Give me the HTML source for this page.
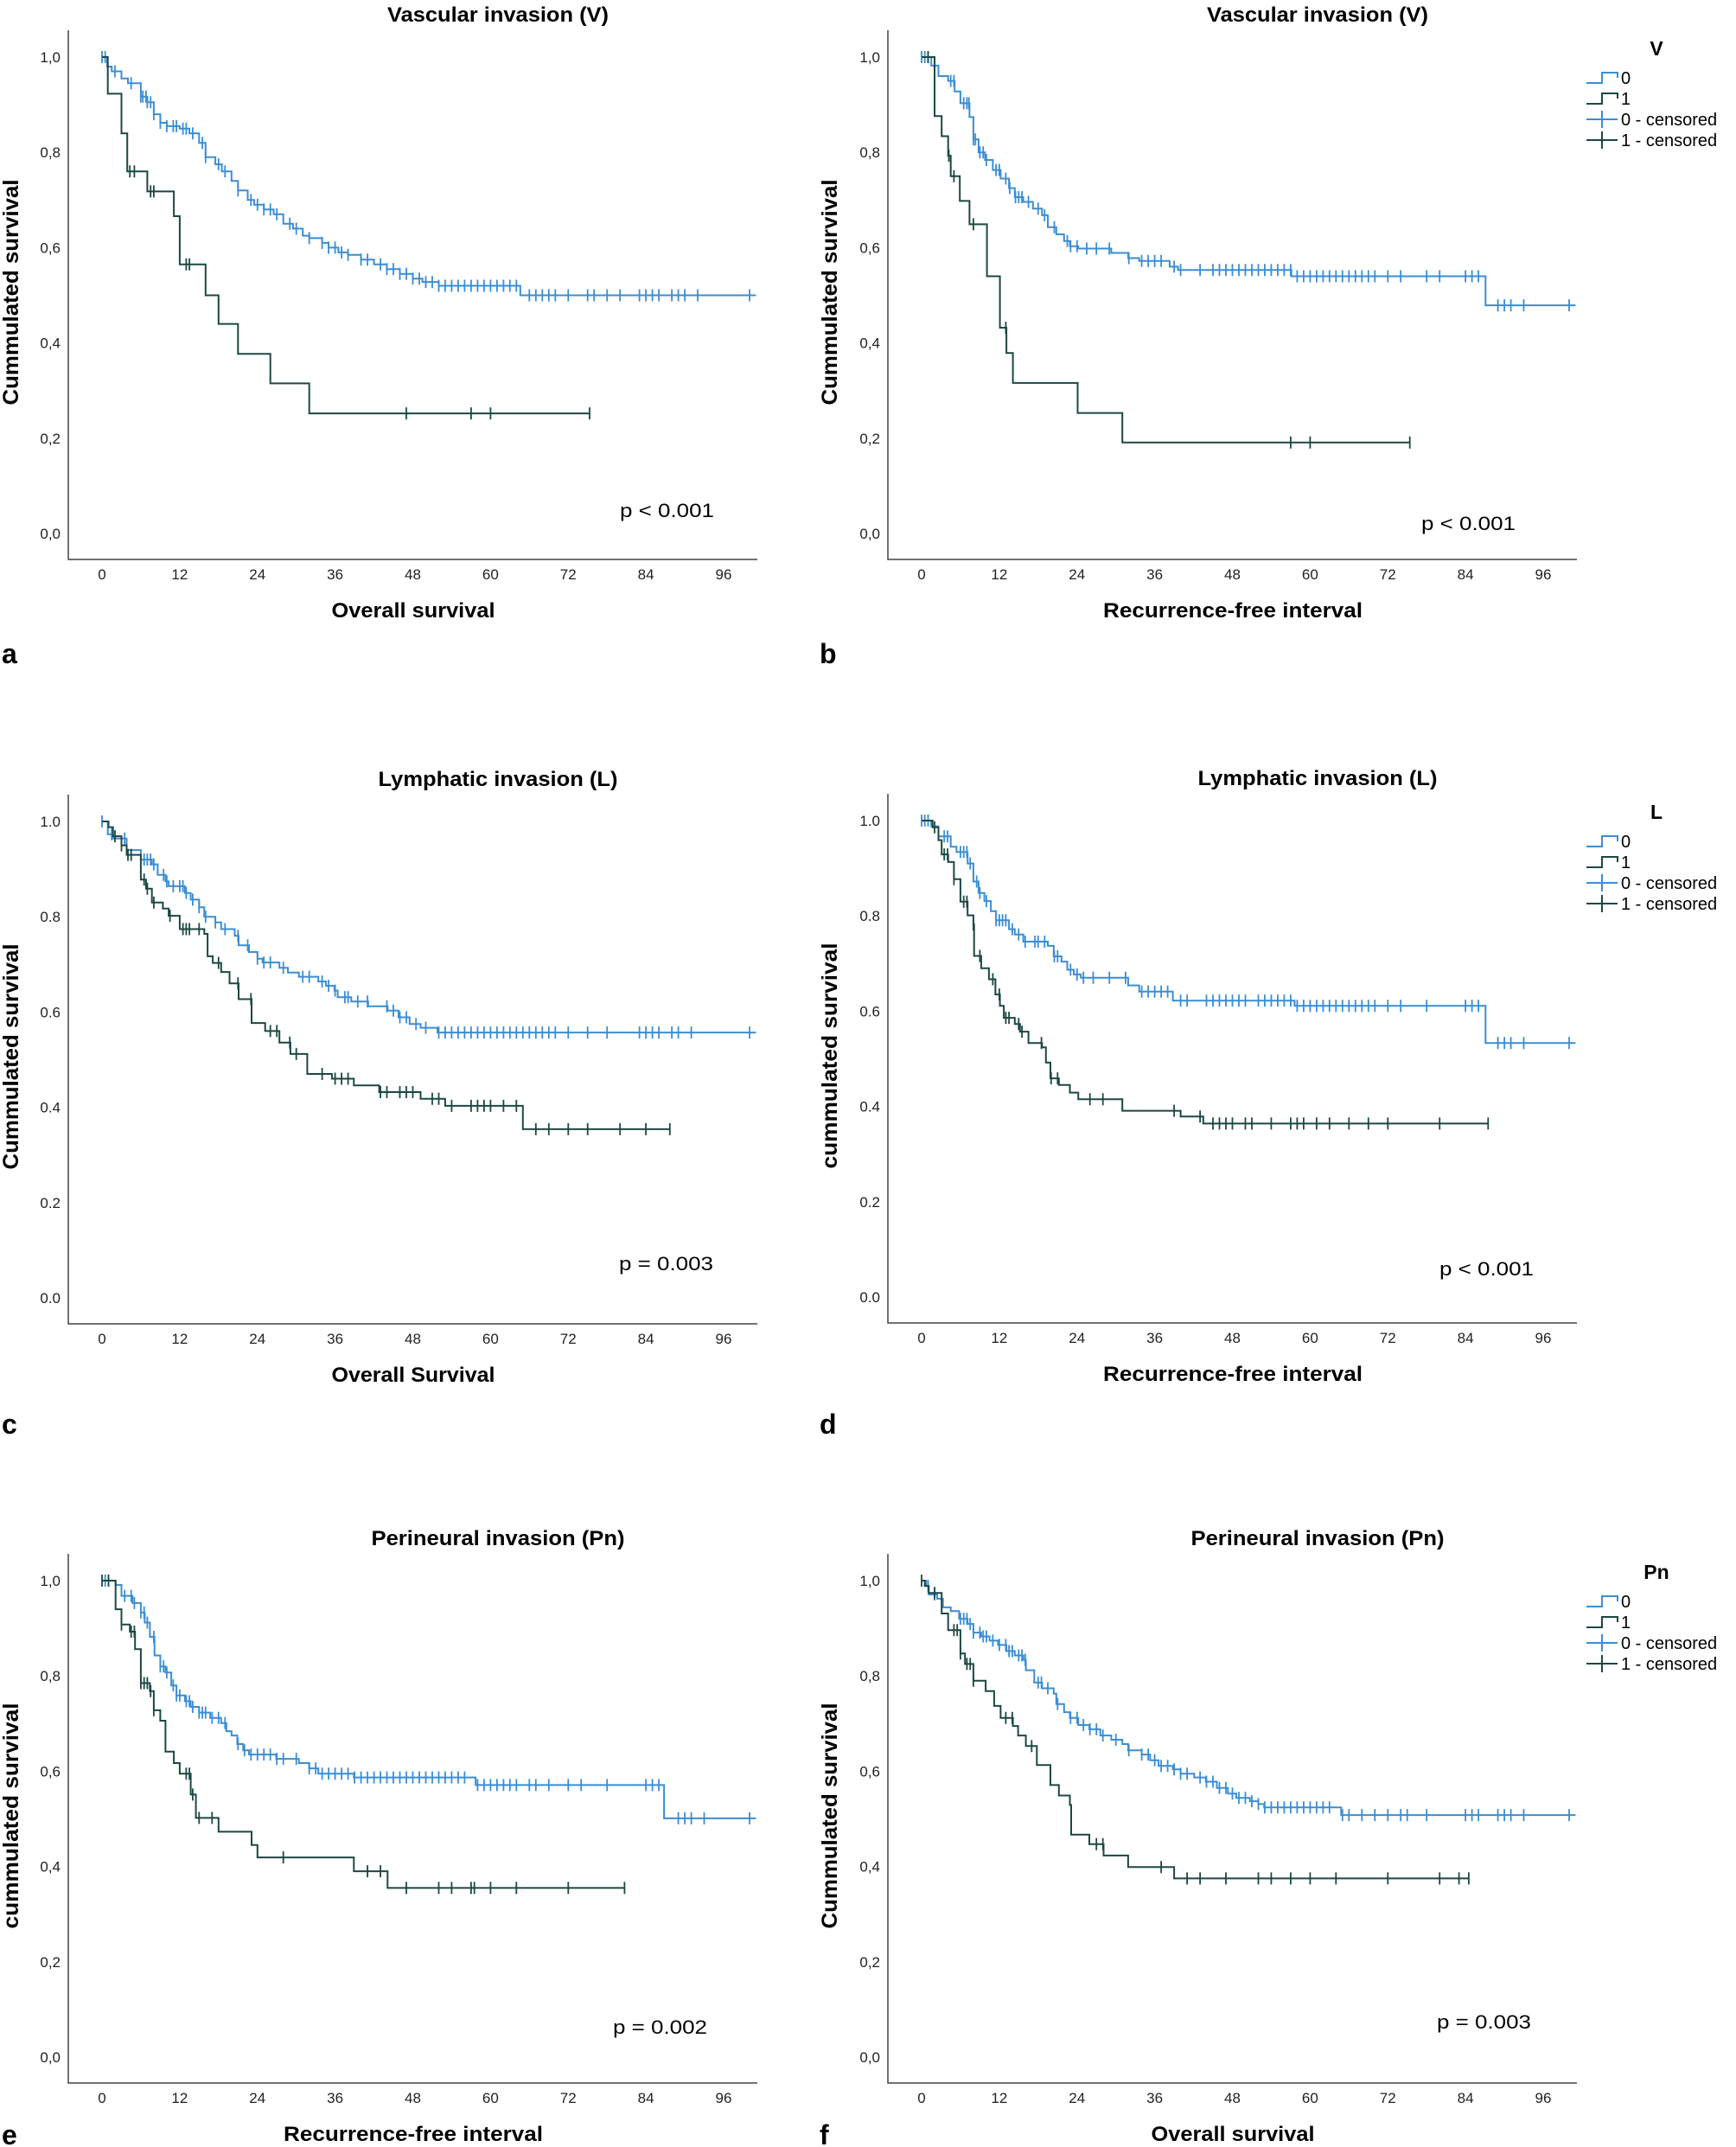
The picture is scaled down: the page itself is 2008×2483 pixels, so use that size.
<!DOCTYPE html>
<html><head><meta charset="utf-8"><style>
html,body{margin:0;padding:0;background:#fff;}
svg{display:block;font-family:"Liberation Sans",sans-serif;}
</style></head><body>
<svg id="fig" width="2008" height="2483" viewBox="0 0 2008 2483" xmlns="http://www.w3.org/2000/svg"></svg>
<script>
// ---------- data (months, survival) ----------
const aBlueT=[0.8,1.5,3,4,6,7,8,9,10,12,13.5,15,16,17.5,18.5,20,21,22.5,23.5,25,26.5,28,29.5,31,32,34,35,36.5,38,40,42,44,46,48,49.5,52,64.6];
const aBlueS=[.98,.97,.955,.945,.917,.905,.88,.862,.855,.85,.84,.82,.79,.775,.76,.74,.72,.70,.69,.68,.67,.65,.64,.625,.62,.61,.60,.59,.585,.575,.565,.555,.545,.535,.528,.52,.50];
const aBlueC=[0,0.5,2,4.5,6,6.3,6.8,7,7.5,8,9,10,11,11.5,12.5,13,14,15.5,16,18,19,21,23,24,25,26,27,29,30,32,34,35,36,37,38,40,41,43,44,45,46,47,48,49,50,51,52,53,54,55,56,57,58,59,60,61,62,63,64,66,67,68,69,70,72,75,76,78,80,83,84,85,86,88,89,90,92,100];
const aDarkT=[0.9,3,3.9,7,11.1,12,16,18,21,26,32];
const aDarkS=[.923,.84,.76,.718,.666,.565,.50,.44,.377,.315,.252];
const aDarkC=[4.3,5,7.5,8,13,13.5,47,57,60,75.3];
const aEnd=[101,75.3];

const bBlueT=[1.5,2.6,4.1,5.1,6,7.4,8,8.8,9.8,11,12.2,13.5,14.4,15.7,17.2,18.6,19.5,20.8,22,22.9,24.2,29.3,31.9,33.6,38.3,39.6,57.1,87.1];
const bBlueS=[.982,.96,.95,.928,.903,.874,.827,.80,.784,.763,.745,.725,.706,.696,.682,.668,.643,.628,.614,.603,.598,.589,.578,.572,.56,.553,.54,.479];
const bBlueC=[0,0.5,1,4.5,5,6.5,7,7.3,8,8.3,9,9.5,10,11.5,12,13,13.6,14.5,15,15.5,16.5,18,19,20.5,22.5,23,24,25.5,27,29,32,34,35,36,37,39,40,43,45,46,47,48,49,50,51,52,53,54,55,56,57,58,59,60,61,62,63,64,65,66,67,68,69,70,72,74,78,80,84,85,86,89,90,91,93,100];
const bDarkT=[2,3.1,4.1,4.5,5.9,7.4,10.1,12.1,13.1,14.1,24.1,31];
const bDarkS=[.876,.834,.793,.75,.698,.649,.54,.432,.379,.316,.253,.191];
const bDarkC=[1,4.2,5,8,13,57,60,75.4];
const bEnd=[101,75.4];

const cBlueT=[0.9,1.7,3.8,6,7.7,8.6,9.8,10.3,12.8,13.7,15,15.8,17.5,18.4,20.5,21.1,22.7,24,24.8,27.4,28.7,30.4,33.4,34.6,35.9,36.4,38.5,41.1,44.1,45.8,47.5,49.2,51.8];
const cBlueS=[.973,.964,.94,.92,.91,.888,.874,.864,.85,.836,.82,.80,.788,.774,.76,.74,.726,.712,.704,.693,.683,.674,.664,.655,.645,.631,.622,.612,.603,.589,.575,.567,.557];
const cBlueC=[0,1.5,3.5,6.5,7,7.5,8,9.5,10,11,12,12.5,13,14,15,16,17.5,19,21,22.5,24,25,26,28,31,32,34,35,36,37.5,38,39.5,41,44,45,46,47,48.5,50,52,53,54,55,56,57,58,59,60,61,62,63,64,65,66,67,68,69,70,72,75,78,83,84,85,86,88,89,91,100];
const cDarkT=[1,1.7,3,3.8,6,6.8,7.7,9.4,10.3,12,15.8,16.3,17.1,18.4,19.7,21.1,23.1,25.2,27.4,29.1,31.7,35.5,38.9,42.8,49.2,53,65];
const cDarkS=[.988,.969,.95,.93,.878,.859,.83,.817,.802,.774,.764,.717,.703,.684,.66,.627,.577,.56,.536,.512,.47,.46,.446,.432,.418,.403,.354];
const cDarkC=[2,3,4,4.5,6.5,7,8,10.5,12.5,13,13.5,15,18,21,23,26,27,29,30,34,36,37,38,43,44,46,47,48,51,52,54,57,58,59,60,62,64,67,69,72,75,80,84,87.7];
const cEnd=[101,87.7];

const dBlueT=[1.5,2.6,4.5,5.4,7.1,8,8.8,9.7,10.7,11.5,13.5,14.4,15.7,19.5,20.4,21.6,22.5,23.5,24.6,31.9,33.6,38.8,57.6,87.1];
const dBlueS=[.988,.967,.945,.934,.91,.872,.848,.831,.81,.791,.772,.761,.746,.737,.715,.704,.687,.677,.67,.654,.641,.622,.611,.533];
const dBlueC=[0,0.5,1,3.5,4,6,6.5,7,7.5,8.5,9,10,11.5,12,12.5,13,14,15,16,17.5,18,19,20.5,21,23,24,25,26.5,29,31.5,34,35,36,37,38,40,41,44,45,46,47,48,49,50,52,53,54,55,56,57,58,59,60,61,62,63,64,65,66,67,68,69,70,72,74,78,84,85,86,89,90,91,93,100];
const dDarkT=[1.7,2.6,3.1,4.1,5,6,7.1,8,8.1,9.2,10.4,11.4,12.1,12.7,14.4,15.2,16.5,18.6,19.2,19.9,21.2,22.9,24.2,31,40,43.5];
const dDarkS=[.986,.959,.929,.913,.877,.83,.801,.782,.716,.69,.667,.635,.611,.586,.573,.557,.533,.524,.492,.459,.445,.429,.415,.391,.379,.364];
const dDarkC=[2,3.5,4,5,6.5,7,8,9,11,12,13,13.5,15,15.5,18.5,20,21,26,28,39,43,45,46,47,48,50,51,54,57,58,59,61,63,66,69,72,80,87.5];
const dEnd=[101,87.5];

const eBlueT=[2.1,3,4.7,6,6.6,7.4,8.1,9,9.8,10.7,11.5,12.8,13.7,15,16.7,18.4,19.2,20,20.9,21.8,22.7,26.9,30.4,32,33.4,38.9,57.7,86.8];
const eBlueS=[.991,.968,.953,.933,.912,.882,.843,.82,.807,.78,.759,.747,.735,.723,.712,.701,.684,.675,.657,.644,.635,.626,.617,.606,.595,.587,.571,.501];
const eBlueC=[0.5,1,3.5,4.5,5,6,6.5,7,8,9,9.5,10,11,11.5,12,13,13.5,14,15,15.5,16,17,18,19,21,22,23,24,25,26,27,28,30,32,33,34,35,36,37,38,39,40,41,42,43,44,45,46,47,48,49,50,51,52,53,54,55,56,58,59,60,61,62,63,64,66,67,69,72,74,78,84,85,86,89,90,91,93,100];
const eDarkT=[2.1,3,4.3,5.1,6,7.4,8,9,9.8,11.1,12,13.7,14.5,18,23.1,24,38.9,44.1];
const eDarkS=[.94,.908,.893,.856,.785,.768,.728,.706,.641,.617,.595,.551,.502,.473,.445,.419,.39,.355];
const eDarkC=[0,1,3,4.5,5,6,6.5,7,7.5,8,13,13.5,14,15,17,28,41,43,47,52,54,57,57.5,60,64,72,80.7];
const eEnd=[101,80.7];

const fBlueT=[0.7,1.1,2.4,3.3,4.5,5.8,7.1,8,9.2,10.5,11.8,13.1,14.4,15.7,16.1,17.4,18.6,20.4,20.8,22,22.9,24.2,25.9,27.6,29.3,31,31.9,34,35.3,36.6,38.8,40,42.1,43.9,45.6,47.3,48.6,50.7,52,52.9,64.8];
const fBlueS=[.989,.971,.962,.944,.936,.92,.909,.891,.883,.874,.865,.852,.843,.834,.812,.786,.774,.763,.741,.724,.712,.697,.688,.675,.666,.657,.644,.635,.623,.611,.604,.595,.587,.578,.565,.553,.544,.537,.531,.524,.508];
const fBlueC=[1,2,6,6.5,7,7.5,8,9,9.5,10,11,12,13,13.5,14,15,15.5,16,18,18.5,19.5,21,23,24,25,26,27,28,30,32,34,35,36,37,38,39,40,41,43,44,45,46,47,48,49,50,51,52,53,54,55,56,57,58,59,60,61,62,63,65,66,68,70,72,74,75,78,84,85,86,89,90,91,93,100];
const fDarkT=[0.5,1.1,3.1,4.1,6,6.7,8,9.9,11.2,12.2,14.1,14.9,16.1,17.8,19.9,21.2,22.9,23.1,25.9,28.1,31.9,39];
const fDarkS=[.989,.974,.931,.896,.847,.825,.79,.768,.737,.712,.695,.675,.653,.613,.571,.549,.529,.467,.447,.423,.399,.375];
const fDarkC=[0,2,5,5.5,6,7,7.5,8,13,14,17,27,28,37,41,43,47,52,54,57,60,64,72,80,83,84.5];
const fEnd=[101,84.5];

const xTicks=[0,12,24,36,48,60,72,84,96];
const yTicks=[0,0.2,0.4,0.6,0.8,1.0];

// ---------- layout ----------
const BLUE="#3b8ed3", DARK="#1c4843";
const svg=document.getElementById('fig');
const NS="http://www.w3.org/2000/svg";
function mk(tag,attrs,parent){const e=document.createElementNS(NS,tag);for(const k in attrs)e.setAttribute(k,attrs[k]);(parent||svg).appendChild(e);return e;}

const panels=[
 {id:'a',left:true, y1:66, title:'Vascular invasion (V)',tl:256,xt:'Overall survival',xtl:189,yt:'Cummulated survival',p:'p < 0.001',px:717,py:590-66,dec:',',leg:null,let:690,
  bT:aBlueT,bS:aBlueS,bC:aBlueC,dT:aDarkT,dS:aDarkS,dC:aDarkC,end:aEnd},
 {id:'b',left:false,y1:66, title:'Vascular invasion (V)',tl:256,xt:'Recurrence-free interval',xtl:300,yt:'Cummulated survival',p:'p < 0.001',px:1644,py:605-66,dec:',',leg:'V',let:690,
  bT:bBlueT,bS:bBlueS,bC:bBlueC,dT:bDarkT,dS:bDarkS,dC:bDarkC,end:bEnd},
 {id:'c',left:true, y1:950, title:'Lymphatic invasion (L)',tl:277,xt:'Overall Survival',xtl:189,yt:'Cummulated survival',p:'p = 0.003',px:716,py:1461-950,dec:'.',leg:null,let:697,
  bT:cBlueT,bS:cBlueS,bC:cBlueC,dT:cDarkT,dS:cDarkS,dC:cDarkC,end:cEnd},
 {id:'d',left:false,y1:949, title:'Lymphatic invasion (L)',tl:277,xt:'Recurrence-free interval',xtl:300,yt:'cummulated survival',p:'p < 0.001',px:1665,py:1467-949,dec:'.',leg:'L',let:698,
  bT:dBlueT,bS:dBlueS,bC:dBlueC,dT:dDarkT,dS:dDarkS,dC:dDarkC,end:dEnd},
 {id:'e',left:true, y1:1828, title:'Perineural invasion (Pn)',tl:293,xt:'Recurrence-free interval',xtl:300,yt:'cummulated survival',p:'p = 0.002',px:709,py:2344-1828,dec:',',leg:null,let:641,
  bT:eBlueT,bS:eBlueS,bC:eBlueC,dT:eDarkT,dS:eDarkS,dC:eDarkC,end:eEnd},
 {id:'f',left:false,y1:1828, title:'Perineural invasion (Pn)',tl:293,xt:'Overall survival',xtl:189,yt:'Cummulated survival',p:'p = 0.003',px:1662,py:2338-1828,dec:',',leg:'Pn',let:641,
  bT:fBlueT,bS:fBlueS,bC:fBlueC,dT:fDarkT,dS:fDarkS,dC:fDarkC,end:fEnd}
];

function stepVal(T,S,t){let v=1;for(let i=0;i<T.length;i++){if(T[i]<=t)v=S[i];}return v;}

panels.forEach(P=>{
  const off=P.left?0:948;
  const axX=79+off, x0=118+off, pm=(837-118)/96, xEnd=876+off;
  const y1=P.y1, span=551;
  const X=t=>x0+t*pm;
  const Y=s=>y1+span-s*span;
  const g=mk('g',{});
  
  
  // title
  const tt=mk('text',{x:(P.left?576:1524),y:y1-41,'text-anchor':'middle','font-size':24,'font-weight':'bold',textLength:P.tl,lengthAdjust:'spacingAndGlyphs'},g);
  tt.textContent=P.title;
  
  
  // axes
  const ax=mk('path',{d:`M${axX} ${y1-31}V${y1+581}H${xEnd}`,fill:'none',stroke:'#444','stroke-width':1.5},g);
  
  
  // y ticks labels
  yTicks.forEach(v=>{
    const t=mk('text',{x:axX-9,y:Y(v)+6,'text-anchor':'end','font-size':17,fill:'#222'},g);
    t.textContent=v.toFixed(1).replace('.',P.dec);
    
    
  });
  xTicks.forEach(v=>{
    const t=mk('text',{x:X(v),y:y1+604,'text-anchor':'middle','font-size':17,fill:'#222'},g);
    t.textContent=String(v);
    
    
  });
  const xt=mk('text',{x:(P.left?478:1426),y:y1+648,'text-anchor':'middle','font-size':24,'font-weight':'bold',textLength:P.xtl,lengthAdjust:'spacingAndGlyphs'},g);
  xt.textContent=P.xt;
  
  
  const ycx=P.left?13:960, ycy=y1+272;
  const yt=mk('text',{x:ycx,y:ycy,'text-anchor':'middle','dominant-baseline':'central','font-size':25,'font-weight':'bold',textLength:261,lengthAdjust:'spacingAndGlyphs',transform:`rotate(-90 ${ycx} ${ycy})`},g);
  yt.textContent=P.yt;
  
  
  const pt=mk('text',{x:P.px,y:y1+P.py+8,'font-size':22,textLength:109,lengthAdjust:'spacingAndGlyphs'},g);
  pt.textContent=P.p;
  
  
  const lt=mk('text',{x:(P.left?2:948),y:y1+P.let+11,'font-size':32,'font-weight':'bold'},g);
  lt.textContent=P.id;
  
  
  // series
  [[P.bT,P.bS,P.bC,P.end[0],BLUE,'group-0'],[P.dT,P.dS,P.dC,P.end[1],DARK,'group-1']].forEach(([T,S,C,end,col,nm])=>{
    let d=`M${X(0)} ${Y(1)}`, prev=1;
    for(let i=0;i<T.length;i++){d+=`H${X(T[i]).toFixed(1)}V${Y(S[i]).toFixed(1)}`;prev=S[i];}
    d+=`H${X(end).toFixed(1)}`;
    const line=mk('path',{d:d,fill:'none',stroke:col,'stroke-width':2},g);
    
    
    let cd='';
    C.forEach(t=>{const cx=X(t),cy=Y(stepVal(T,S,t));cd+=`M${cx.toFixed(1)} ${(cy-7).toFixed(1)}V${(cy+7).toFixed(1)}`;});
    const cm=mk('path',{d:cd,fill:'none',stroke:col,'stroke-width':1.8},g);
    
    
  });
  // legend
  if(P.leg){
    const lg=mk('g',{},g);
    
    
    const lh=mk('text',{x:1916,y:y1-10+8,'text-anchor':'middle','font-size':23,'font-weight':'bold'},lg);
    lh.textContent=P.leg;
    
    
    const ents=[['0',BLUE,'step'],['1',DARK,'step'],['0 - censored',BLUE,'plus'],['1 - censored',DARK,'plus']];
    ents.forEach((e,i)=>{
      const ey=y1+24+i*24;
      const sym=e[2]==='step'?`M1835 ${ey+6}H1853V${ey-6}H1871V${ey}`:`M1835 ${ey}H1871M1853 ${ey-10}V${ey+10}`;
      const s=mk('path',{d:sym,fill:'none',stroke:e[1],'stroke-width':2},lg);
      
      
      const tx=mk('text',{x:1875,y:ey+7,'font-size':20},lg);
      tx.textContent=e[0];
      
      
    });
  }
});
</script>
</body></html>
